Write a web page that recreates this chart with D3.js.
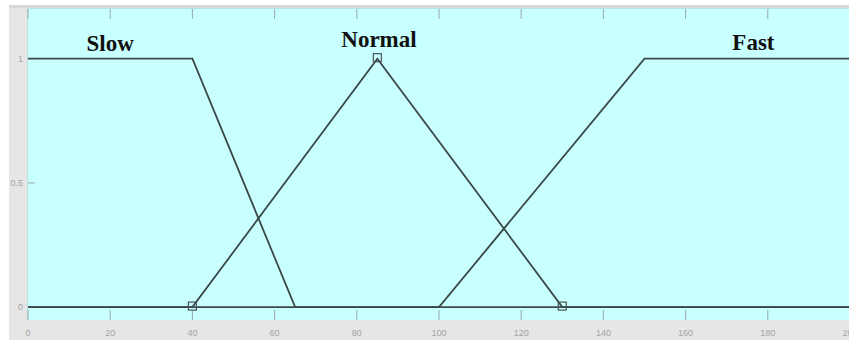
<!DOCTYPE html>
<html>
<head>
<meta charset="utf-8">
<script src="https://cdn.jsdelivr.net/npm/d3@7"></script>
<style>
  html, body { margin: 0; padding: 0; background: #ffffff; }
  svg { display: block; }
</style>
</head>
<body>
<svg id="chart" width="849" height="340"></svg>
<script>
// ---- data ----
const xTicks = [0, 20, 40, 60, 80, 100, 120, 140, 160, 180, 200];
const yTicks = [0, 0.5, 1];
const yTickLabels = ["0", "0.5", "1"];
const mfNames = ["Slow", "Normal", "Fast"];
const slowX = [0, 40, 65, 200];
const slowY = [1, 1, 0, 0];
const normalX = [0, 40, 85, 130, 200];
const normalY = [0, 0, 1, 0, 0];
const fastX = [0, 100, 150, 200];
const fastY = [0, 0, 1, 1];
const normalMarkersX = [40, 85, 130];
const normalMarkersY = [0, 1, 0];
const labelX = [20, 85.4, 176.5];
const labelY = [1.031, 1.047, 1.035];

// ---- layout ----
const W = 849, H = 340;
const plot = { left: 28, right: 850, top: 9, bottom: 320 };
const svg = d3.select("#chart");

const x = d3.scaleLinear().domain([0, 200]).range([plot.left, plot.right]);
const y = d3.scaleLinear().domain([-0.05, 1.2]).range([plot.bottom - 0.5, plot.top]);

// backgrounds
svg.append("rect").attr("x", 9).attr("y", 5).attr("width", W - 9).attr("height", H - 5).attr("fill", "#e6e6e6");
svg.append("rect").attr("x", 9).attr("y", 5).attr("width", W - 9).attr("height", 3).attr("fill", "#d8d8d8");
svg.append("rect").attr("x", plot.left - 1).attr("y", plot.top - 1)
  .attr("width", W - plot.left + 1).attr("height", plot.bottom - plot.top + 1)
  .attr("fill", "#b8e2e2");
svg.append("rect").attr("x", plot.left).attr("y", plot.top)
  .attr("width", W - plot.left).attr("height", plot.bottom - plot.top)
  .attr("fill", "#c8ffff");

// axes ticks (inside)
const tickColor = "#9aa8a8";
svg.append("g").selectAll("line.bt").data(xTicks).join("line")
  .attr("x1", d => x(d)).attr("x2", d => x(d))
  .attr("y1", plot.bottom).attr("y2", plot.bottom - 10)
  .attr("stroke", tickColor).attr("stroke-width", 1);
svg.append("g").selectAll("line.tt").data(xTicks).join("line")
  .attr("x1", d => x(d)).attr("x2", d => x(d))
  .attr("y1", plot.top).attr("y2", plot.top + 10)
  .attr("stroke", tickColor).attr("stroke-width", 1);
svg.append("g").selectAll("line.yt").data(yTicks).join("line")
  .attr("x1", plot.left).attr("x2", plot.left + 7)
  .attr("y1", d => y(d)).attr("y2", d => y(d))
  .attr("stroke", tickColor).attr("stroke-width", 1);

// tick labels
svg.append("g").selectAll("text").data(xTicks).join("text")
  .attr("x", d => x(d)).attr("y", 336)
  .attr("text-anchor", "middle")
  .attr("font-family", "Arial, 'Liberation Sans', sans-serif")
  .attr("font-size", 9).attr("fill", "#a4a4a4")
  .text(d => d);
svg.append("g").selectAll("text").data(yTicks).join("text")
  .attr("x", 23).attr("y", d => y(d) + 3)
  .attr("text-anchor", "end")
  .attr("font-family", "Arial, 'Liberation Sans', sans-serif")
  .attr("font-size", 9).attr("fill", "#a4a4a4")
  .text((d, i) => yTickLabels[i]);

// membership functions
const line = d3.line().x(d => x(d[0])).y(d => y(d[1]));
const lineColor = "#3c4848";
const series = [
  d3.zip(slowX, slowY),
  d3.zip(normalX, normalY),
  d3.zip(fastX, fastY)
];
svg.append("g").selectAll("path").data(series).join("path")
  .attr("d", line)
  .attr("fill", "none")
  .attr("stroke", lineColor)
  .attr("stroke-width", 1.8)
  .attr("stroke-linejoin", "miter");

// markers for the selected MF
svg.append("g").selectAll("rect").data(d3.zip(normalMarkersX, normalMarkersY)).join("rect")
  .attr("x", d => x(d[0]) - 4).attr("y", d => y(d[1]) - 5)
  .attr("width", 8).attr("height", 8)
  .attr("fill", "none")
  .attr("stroke", "#4a5454").attr("stroke-width", 1.2);

// labels
svg.append("g").selectAll("text").data(mfNames).join("text")
  .attr("x", (d, i) => x(labelX[i])).attr("y", (d, i) => y(labelY[i]))
  .attr("text-anchor", "middle")
  .attr("font-family", "'Liberation Serif', 'Times New Roman', serif")
  .attr("font-weight", "bold")
  .attr("font-size", 23)
  .attr("fill", "#111111")
  .text(d => d);
</script>
</body>
</html>
